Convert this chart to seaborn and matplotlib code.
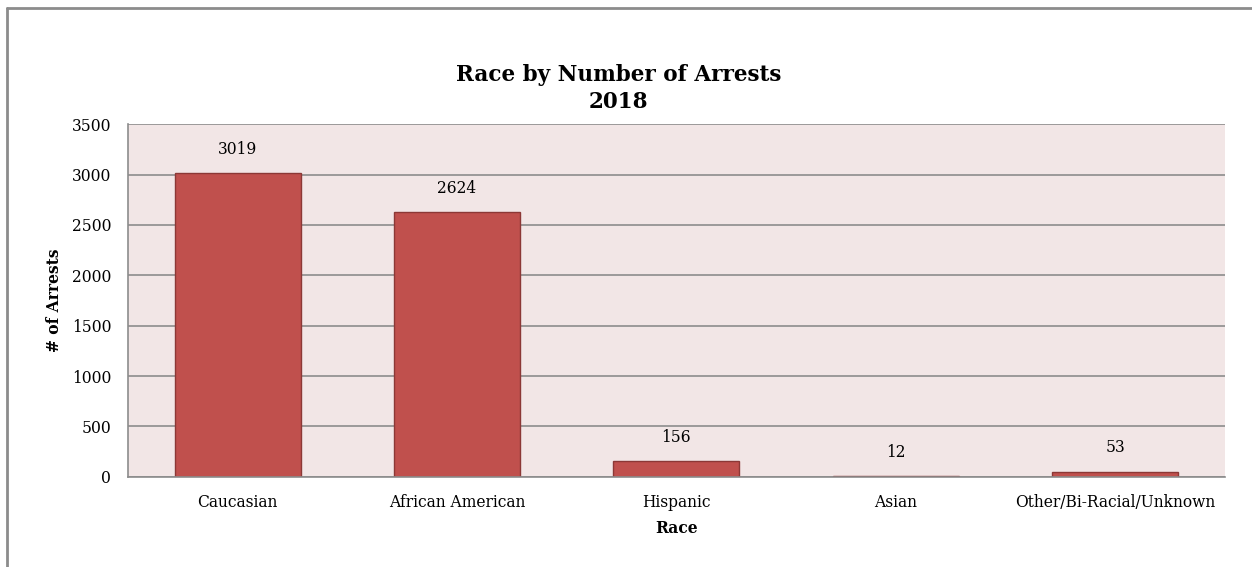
import matplotlib
matplotlib.use("Agg")
import matplotlib.pyplot as plt
import seaborn as sns
import pandas as pd
from matplotlib.lines import Line2D

# data
races = ["Caucasian", "African American", "Hispanic", "Asian", "Other/Bi-Racial/Unknown"]
arrests = [3019, 2624, 156, 12, 53]
y_ticks = [0, 500, 1000, 1500, 2000, 2500, 3000, 3500]

df = pd.DataFrame({"Race": races, "Arrests": arrests})

sns.set_theme(style="white")
plt.rcParams['font.family'] = ['DejaVu Serif', 'DejaVu Sans']
plt.rcParams['text.color'] = 'black'
plt.rcParams['axes.labelcolor'] = 'black'

fig = plt.figure(figsize=(12.52, 5.67), dpi=100)
ax = fig.add_axes([0.1022, 0.159, 0.876, 0.622])

ax.set_facecolor("#F2E6E6")
ax.set_axisbelow(True)
ax.yaxis.grid(True, color="#8C8C8C", linewidth=1.2)

sns.barplot(data=df, x="Race", y="Arrests", ax=ax, color="#C0504D",
            edgecolor="#8C3836", linewidth=1.0, width=0.575, saturation=1)

for i, v in enumerate(arrests):
    ax.text(i, v + 150, str(v), ha="center", va="bottom", fontsize=11.2, color="black")

ax.set_ylim(0, 3500)
ax.set_yticks(y_ticks)
ax.tick_params(axis="both", length=0, labelsize=11.2, colors="black")
ax.tick_params(axis="x", pad=12)
ax.tick_params(axis="y", pad=12)

for side in ["top", "right"]:
    ax.spines[side].set_visible(False)
ax.spines["left"].set_color("#8C8C8C")
ax.spines["left"].set_linewidth(1.2)
ax.spines["bottom"].set_color("#8C8C8C")
ax.spines["bottom"].set_linewidth(1.2)

ax.set_xlabel("Race", fontsize=11.2, fontweight="bold", labelpad=7)
ax.set_ylabel("# of Arrests", fontsize=11.2, fontweight="bold", labelpad=6)

fig.text(0.494, 0.844, "Race by Number of Arrests\n2018", ha="center", va="center",
         fontsize=15.5, fontweight="bold", linespacing=1.3)

# outer chart border (left and top edges visible in the crop)
fig.add_artist(Line2D([7 / 1252, 7 / 1252], [0, 1 - 8 / 567], transform=fig.transFigure,
                      color="#8C8C8C", linewidth=2))
fig.add_artist(Line2D([7 / 1252, 1], [1 - 8 / 567, 1 - 8 / 567], transform=fig.transFigure,
                      color="#8C8C8C", linewidth=2))

plt.savefig("out.png", dpi=100, facecolor="white")
plt.close()
